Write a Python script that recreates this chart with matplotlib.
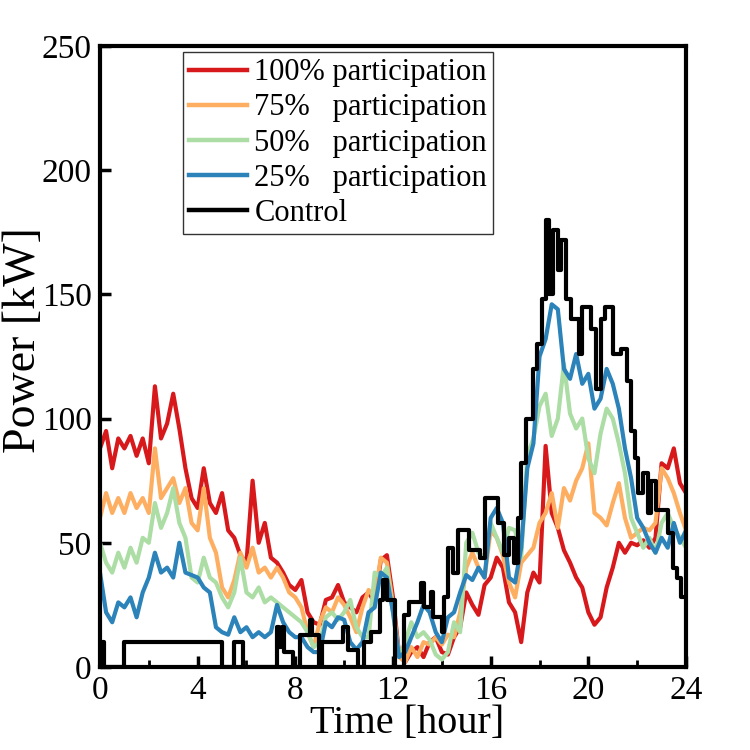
import matplotlib.pyplot as plt
import numpy as np

plt.rcParams["font.family"] = ["Liberation Serif", "DejaVu Serif"]

# time grid for the participation series (every 15 min)
hours = np.linspace(0, 24, 97)

p100 = [
    88, 95, 80, 92, 88, 93, 85, 92, 82, 113, 92, 98, 110, 96, 80, 68,
    64, 80, 66, 62, 70, 55, 52, 45, 42, 75, 50, 58, 44, 42, 38, 33,
    31, 35, 22, 18, 17, 27, 28, 33, 26, 24, 22, 28, 30, 26, 43, 45,
    28, 5, 2, 6, 8, 4, 10, 12, 6, 5, 12, 16, 30, 25, 21, 33,
    36, 44, 40, 26, 22, 10, 30, 38, 34, 89, 62, 56, 47, 42, 36, 32,
    22, 17, 20, 32, 40, 50, 46, 50, 49, 51, 48, 52, 82, 80, 88, 74,
    70,
]
p75 = [
    60, 70, 62, 68, 62, 70, 64, 68, 62, 88, 68, 72, 76, 66, 72, 58,
    55, 72, 52, 46, 32, 28, 35, 46, 40, 48, 38, 40, 36, 40, 36, 30,
    28, 24, 14, 8, 18, 24, 22, 28, 25, 20, 14, 24, 31, 28, 44, 42,
    25, 4, 2, 8, 4, 10, 9, 12, 9, 13, 12, 22, 40, 46, 40, 36,
    55, 52, 45, 34, 28, 42, 45, 48, 58, 62, 70, 56, 72, 67, 75, 80,
    90, 62, 60, 57, 66, 74, 60, 52, 54, 56, 55, 58, 80, 76, 70, 62,
    55,
]
p50 = [
    50, 42, 38, 46, 40, 48, 42, 52, 50, 66, 56, 62, 72, 58, 52, 36,
    34, 44, 36, 34, 28, 24, 30, 44, 30, 28, 32, 26, 28, 26, 24, 22,
    20, 18, 14, 8, 10, 20, 22, 19, 22, 27, 16, 12, 12, 38, 36, 40,
    22, 4, 10, 18, 12, 14, 11, 5, 3, 6, 18, 14, 50, 54, 46, 44,
    58, 52, 46, 56, 55, 44, 85, 92, 105, 110, 93, 100, 122, 102, 96, 100,
    84, 78, 94, 104, 100, 90, 78, 60, 54, 48, 52, 46, 58, 62, 56, 52,
    48,
]
p25 = [
    38, 22, 18, 26, 24, 28, 20, 30, 36, 46, 38, 40, 36, 50, 38, 37,
    36, 32, 30, 16, 14, 13, 20, 14, 16, 12, 14, 12, 14, 25, 18, 14,
    12, 12, 8, 6, 6, 18, 16, 20, 19, 10, 7, 10, 22, 24, 38, 36,
    22, 4, 6, 12, 18, 25, 22, 14, 10, 20, 22, 30, 37, 35, 40, 36,
    60, 64, 58, 36, 34, 48, 80, 90, 125, 132, 146, 144, 120, 116, 126, 114,
    118, 104, 108, 120, 114, 104, 88, 76, 60, 56, 50, 46, 52, 48, 58, 50,
    55,
]

# control: stepwise load (switch times and levels)
ctrl_t = [
    0.0, 0.15, 1.0, 5.0, 5.5, 5.85, 7.25, 7.35, 7.45, 7.55, 7.9, 8.2,
    8.6, 8.7, 8.95, 9.1, 9.95, 10.15, 10.55, 10.8, 11.1, 11.45, 11.6, 11.75,
    12.1, 12.45, 12.65, 13.15, 13.25, 13.55, 13.65, 14.0, 14.1, 14.25, 14.45, 14.65,
    15.1, 15.55, 15.75, 16.3, 16.55, 16.75, 16.95, 17.1, 17.25, 17.45, 17.75, 17.9,
    18.1, 18.25, 18.4, 18.55, 18.75, 18.9, 19.1, 19.3, 19.6, 19.75, 20.1, 20.3,
    20.5, 20.7, 21.0, 21.35, 21.6, 21.75, 21.9, 22.05, 22.25, 22.45, 22.55, 22.75,
    23.25, 23.45, 23.65, 23.8, 24.0,
]
ctrl_p = [
    10, 0, 10, 0, 10, 0, 16, 8, 16, 6, 0, 13,
    19, 13, 0, 10, 16, 7, 0, 10, 14, 27, 35, 27,
    0, 21, 26, 34, 24, 30, 20, 14, 28, 48, 38, 55,
    47, 44, 68, 58, 45, 52, 42, 60, 82, 100, 120, 130,
    148, 180, 150, 176, 160, 172, 148, 140, 126, 145, 136, 112,
    140, 145, 126, 128, 115, 95, 84, 70, 78, 62, 75, 63,
    54, 40, 36, 28, 28,
]

labels = ["100% participation", "75%   participation", "50%   participation",
          "25%   participation", "Control"]
colors = ["#d7191c", "#fdae61", "#abdda4", "#2b83ba", "black"]

fig = plt.figure(figsize=(7.5, 7.5), dpi=100)
ax = fig.add_axes([0.1333, 0.1107, 0.7814, 0.828])

for vals, lab, col in zip([p100, p75, p50, p25], labels[:4], colors[:4]):
    ax.plot(hours, vals, color=col, lw=3, label=lab)
ax.plot(ctrl_t, ctrl_p, color="black", lw=3, drawstyle="steps-post", label=labels[4])

ax.set_xlim(0, 24)
ax.set_ylim(0, 250)
ax.set_xticks(np.arange(0, 25, 4))
ax.set_xticks(np.arange(0, 25, 2), minor=True)
ax.set_yticks(np.arange(0, 251, 50))
ax.tick_params(axis="both", which="major", direction="in", length=8, width=2.5,
               labelsize=24, pad=6)
ax.tick_params(axis="x", which="minor", direction="in", length=5, width=2)
for s in ax.spines.values():
    s.set_linewidth(3)

ax.set_xlabel("Time [hour]", fontsize=29)
ax.set_ylabel("Power [kW]", fontsize=33)
ax.xaxis.set_label_coords(0.524, -0.062)
ax.yaxis.set_label_coords(-0.094, 0.527)

leg = ax.legend(loc="upper left", bbox_to_anchor=(0.142, 0.99), borderaxespad=0,
                fontsize=22, frameon=True, fancybox=False, edgecolor="black",
                handlelength=1.9, handletextpad=0.23, labelspacing=0.2,
                borderpad=0.2)
leg.get_frame().set_linewidth(1)
for line in leg.get_lines():
    line.set_linewidth(3.2)

fig.savefig("out.png", dpi=100)
